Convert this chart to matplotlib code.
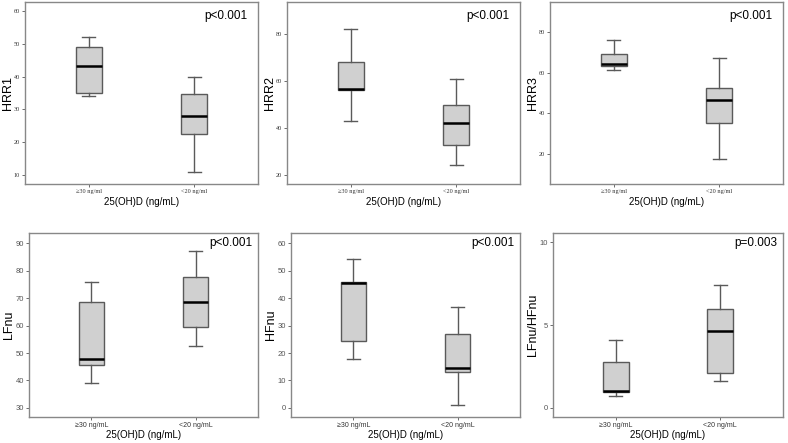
"""Six boxplots: HRR / HRV indices by 25(OH)D group."""
import matplotlib
matplotlib.use("Agg")
import matplotlib.pyplot as plt

groups_top = ["\u226530 ng/ml", "<20 ng/ml"]
groups_bot = ["\u226530 ng/mL", "<20 ng/mL"]
xlabel = "25(OH)D (ng/mL)"

names = ["HRR1", "HRR2", "HRR3", "LFnu", "HFnu", "LFnu/HFnu"]
pvals = ["p<0.001", "p<0.001", "p<0.001", "p<0.001", "p<0.001", "p=0.003"]

# per panel, per group: (whisker low, Q1, median, Q3, whisker high)
hrr1 = [(34.0, 35.1, 43.1, 49.0, 52.1), (10.9, 22.6, 28.1, 34.6, 40.0)]
hrr2 = [(43.0, 56.2, 56.8, 67.9, 82.0), (24.1, 32.6, 42.0, 49.9, 61.0)]
hrr3 = [(61.1, 63.0, 64.1, 69.1, 76.1), (17.9, 35.1, 46.7, 52.5, 67.2)]
lfnu = [(38.9, 45.8, 48.0, 68.4, 76.0), (52.6, 59.3, 68.7, 77.8, 87.1)]
hfnu = [(17.8, 24.3, 45.5, 46.0, 54.1), (1.1, 13.0, 14.5, 26.9, 36.8)]
ratio = [(0.69, 0.99, 1.04, 2.80, 4.09), (1.62, 2.12, 4.66, 5.97, 7.42)]
data = [hrr1, hrr2, hrr3, lfnu, hfnu, ratio]

yticks = [[10, 20, 30, 40, 50, 60], [20, 40, 60, 80], [20, 40, 60, 80],
          [30, 40, 50, 60, 70, 80, 90], [0, 10, 20, 30, 40, 50, 60], [0, 5, 10]]
ylims = [(7.2, 62.8), (16.2, 93.6), (5.5, 94.5), (26.7, 93.7), (-3.3, 63.7), (-0.55, 10.57)]

W, H = 788, 443
# axes boxes in pixels: left, top, right, bottom
boxes = [(25, 2, 258, 184), (287, 2, 520, 184), (550, 2, 783, 184),
         (29, 233, 258, 417), (291, 233, 520, 417), (553, 233, 783, 417)]

fig = plt.figure(figsize=(W / 100, H / 100), dpi=100)
edge = "#5a5a5a"
for i, (l, t, r, b) in enumerate(boxes):
    ax = fig.add_axes([l / W, 1 - b / H, (r - l) / W, (b - t) / H])
    stats = [dict(whislo=s[0], q1=s[1], med=s[2], q3=s[3], whishi=s[4], fliers=[])
             for s in data[i]]
    ax.bxp(stats, positions=[1, 2], widths=0.245, patch_artist=True,
           showfliers=False,
           boxprops=dict(facecolor="#d0d0d0", edgecolor=edge, linewidth=1.0),
           whiskerprops=dict(color=edge, linewidth=1.0),
           capprops=dict(color=edge, linewidth=1.0),
           capwidths=0.125,
           medianprops=dict(color="black", linewidth=1.8))
    ax.set_xlim(0.4, 2.6)
    ax.set_ylim(*ylims[i])
    ax.set_yticks(yticks[i])
    ax.set_xticks([1, 2])
    top = i < 3
    if top:
        ax.set_xticklabels(groups_top, family="Liberation Serif", fontsize=4.5, color="#333333")
        ax.set_yticklabels([str(v) for v in yticks[i]], family="Liberation Serif",
                           fontsize=4.5, color="#333333")
    else:
        ax.set_xticklabels(groups_bot, family="Liberation Sans", fontsize=5, color="#333333")
        ax.set_yticklabels([str(v) for v in yticks[i]], family="Liberation Sans",
                           fontsize=5.5, color="#555555")
    ax.tick_params(length=2, width=0.6, color="#555555", pad=1.5)
    for sp in ax.spines.values():
        sp.set_color("#888888")
        sp.set_linewidth(1.0)
    ax.set_xlabel(xlabel, family="Liberation Sans", fontsize=7, labelpad=2 if top else 0.5)
    ax.set_ylabel(names[i], family="Liberation Sans", fontsize=9)
    off = 11 if top else 14
    ax.yaxis.set_label_coords(-off / (r - l), 0.5)
    ax.text(0.953 if top else 0.975, 0.923 if top else 0.946, pvals[i],
            transform=ax.transAxes, ha="right", va="center",
            family="Liberation Sans", fontsize=8.5)

fig.savefig("out.png", dpi=100)
